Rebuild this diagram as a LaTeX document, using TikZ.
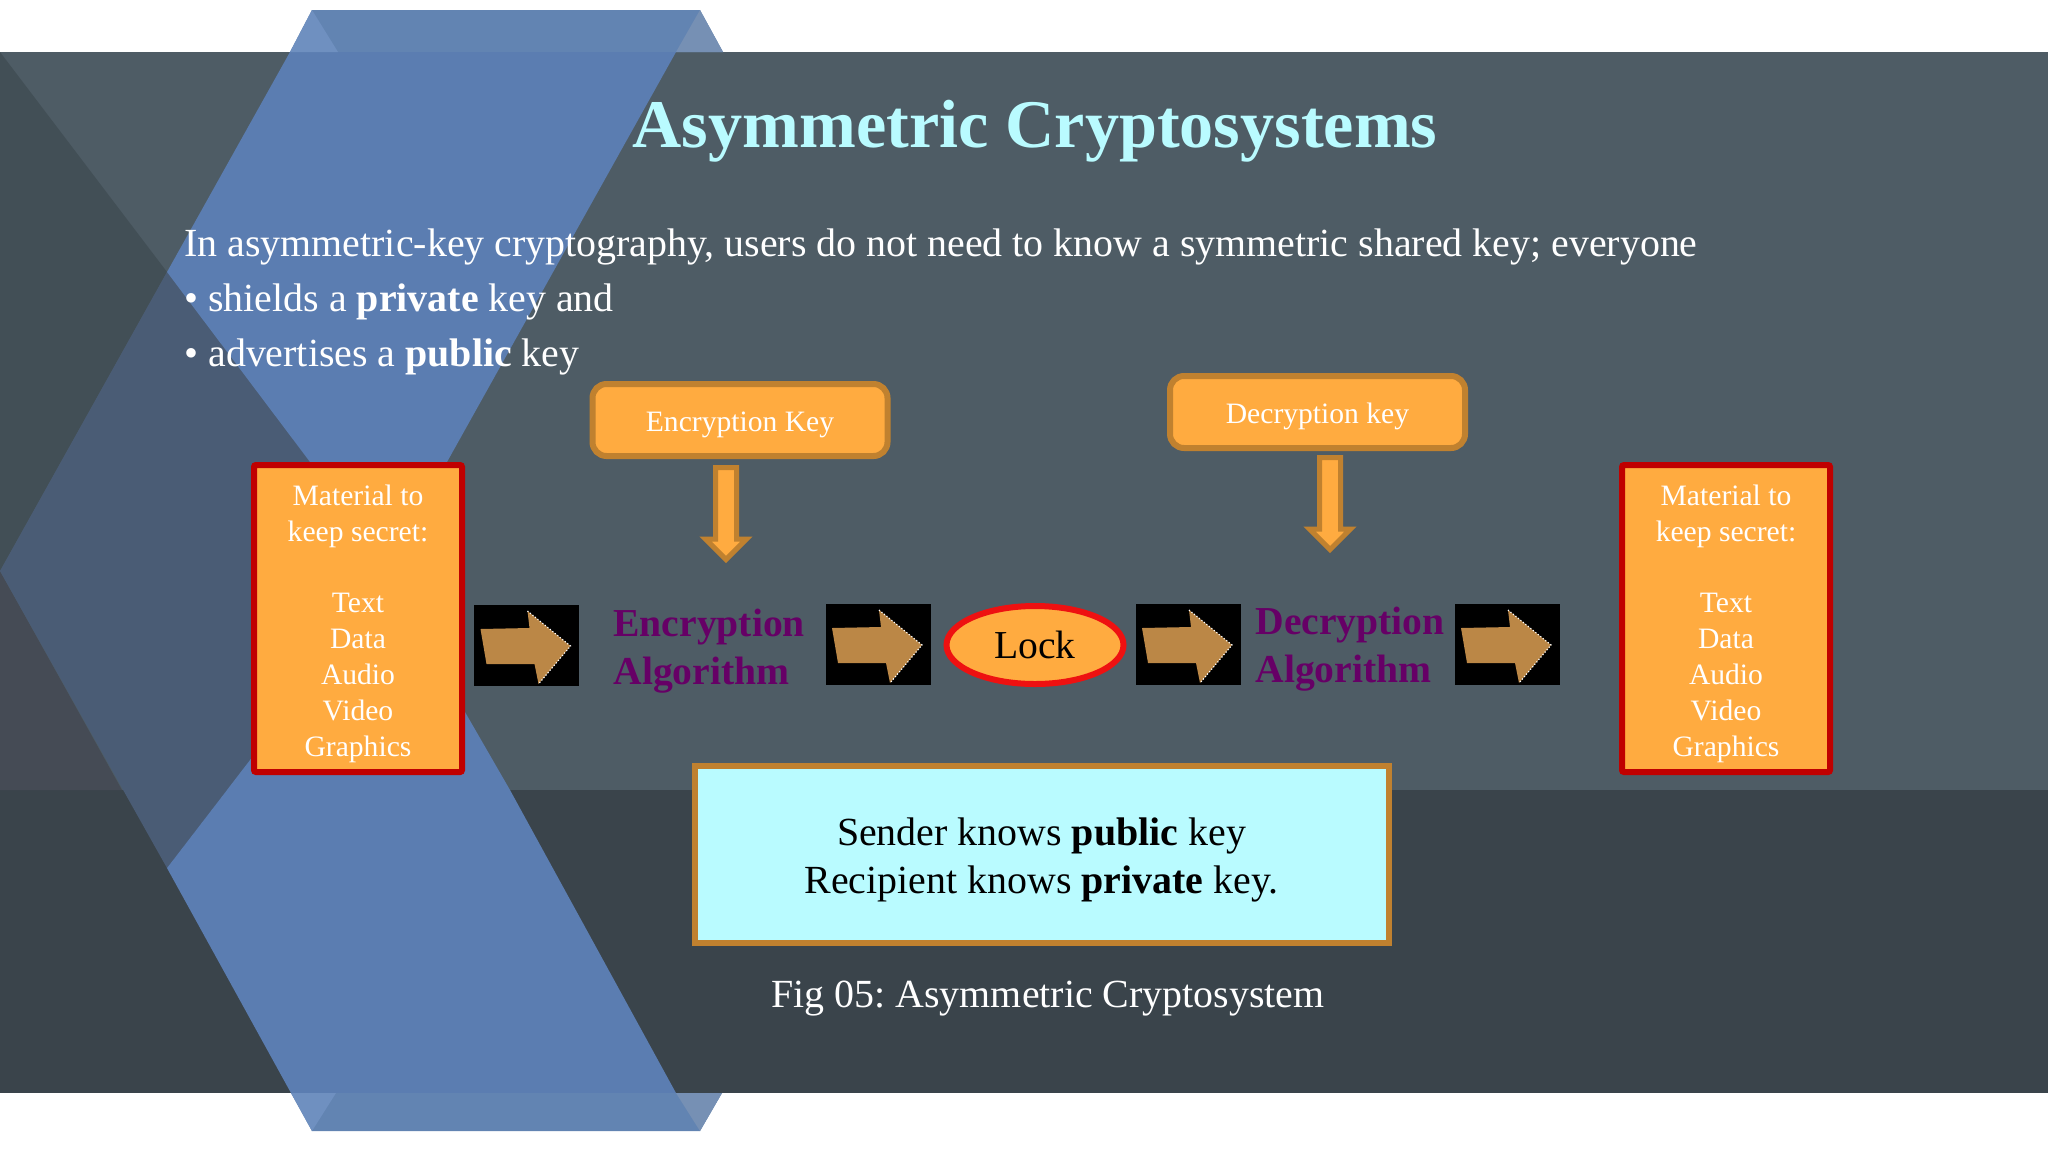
\documentclass[tikz,border=0pt]{standalone}
\usepackage{fontspec}
\setmainfont{Liberation Serif}
\usetikzlibrary{positioning,shapes.geometric,shapes.arrows}
\definecolor{slateband}{HTML}{4E5C65}
\definecolor{darkband}{HTML}{3A444B}
\definecolor{sidedark}{HTML}{424F56}
\definecolor{sidegrey}{HTML}{454B55}
\definecolor{dimblue}{HTML}{4A5C75}
\definecolor{fullblue}{HTML}{5B7DB1}
\definecolor{tabblue}{HTML}{6284B2}
\definecolor{tableft}{HTML}{6F90C0}
\definecolor{tabright}{HTML}{7690B4}
\definecolor{paleaqua}{HTML}{B9FBFF}
\definecolor{boxorange}{HTML}{FFAB40}
\definecolor{edgebrown}{HTML}{C0812F}
\definecolor{arrowbrown}{HTML}{BB8746}
\definecolor{secretred}{HTML}{C00000}
\definecolor{lockred}{HTML}{EE1111}
\definecolor{algpurple}{HTML}{660066}
\tikzset{
  secretbox/.style={rectangle, draw = secretred, fill = boxorange, line width = 3pt, rounded corners = 1pt, minimum width = 104pt, minimum height = 153.5pt, inner sep = 0pt},
  secrettext/.style={align = center, inner sep = 0pt, text = white, font = \fontsize{14.8}{17.9}\selectfont},
  keybox/.style={rectangle, rounded corners = 7pt, draw = edgebrown, fill = boxorange, line width = 3pt, minimum width = 147.5pt, minimum height = 36pt, inner sep = 0pt, text = white, text height = 11.7pt, text depth = 0pt, font = \fontsize{14.8}{17.9}\selectfont},
  keyarrow/.style={single arrow, rotate = -90, anchor = tail, draw = edgebrown, fill = boxorange, line width = 2.5pt, minimum height = 46pt, minimum width = 19pt, single arrow head extend = 5pt, inner xsep = 0pt, inner ysep = 4pt},
  algtext/.style={align = left, text = algpurple, inner sep = 0pt, anchor = west, font = \fontsize{19.8}{24}\selectfont\bfseries},
  imgarrow/.style={rectangle, fill = black, minimum width = 52.5pt, minimum height = 40.5pt, inner sep = 0pt, path picture = {
    \fill[arrowbrown, shift = {(path picture bounding box.center)}] (-46,-16)--(3,-17)--(1,-34)--(44,1)--(12,39)--(8,19)--(-40,19)--cycle;
    \draw[white, densely dotted, line width = .6pt, shift = {(path picture bounding box.center)}] (1,-34)--(44,1)--(12,39);
  }}
}
\begin{document}
\frenchspacing
\begin{tikzpicture}[x=.5pt, y=-.5pt]
\useasboundingbox (0,0) rectangle (2048,1152);
\fill[white] (0,0) rectangle (2048,1152);

% background bands
\fill[slateband] (0,52) rectangle (2048,790);
\fill[darkband] (0,790) rectangle (2048,1093);
\fill[sidedark] (0,52)--(167,272)--(0,571)--cycle;
\fill[sidegrey] (0,571)--(122,790)--(0,790)--cycle;

% blue chevrons
\fill[dimblue] (0,571)--(167,272)--(310,462)--(310,682)--(167,868)--cycle;
\fill[fullblue] (290,52)--(676,52)--(447,462)--(465,712)--(510,790)--(676,1093)--(291,1093)--(167,868)--(310,682)--(310,462)--(167,272)--cycle;
\fill[tabblue] (312,10)--(700,10)--(723,52)--(290,52)--cycle;
\fill[tableft] (312,10)--(338,52)--(290,52)--cycle;
\fill[tabright] (700,10)--(723,52)--(676,52)--cycle;
\fill[tabblue] (312,1131)--(700,1131)--(722,1093)--(291,1093)--cycle;
\fill[tableft] (312,1131)--(336,1093)--(291,1093)--cycle;
\fill[tabright] (700,1131)--(722,1093)--(676,1093)--cycle;

\node (title) [anchor = base, text = paleaqua, inner sep = 0pt, font = \fontsize{34.1}{40}\selectfont\bfseries] at (1035,147) {Asymmetric Cryptosystems};

\node (intro) [anchor = north west, align = left, text = white, inner sep = 0pt, font = \fontsize{19.95}{27.5}\selectfont] at (184,228) {In asymmetric-key cryptography, users do not need to know a symmetric shared key; everyone\\• shields a \textbf{private} key and\\• advertises a \textbf{public} key};

\node (secretleft) [secretbox] at (358,618.5) {};
\node (secretlefttext) [secrettext] at ([yshift=-2.6pt]secretleft.center) {Material to\\keep secret:\\[17.9pt]Text\\Data\\Audio\\Video\\Graphics};
\node (secretright) [secretbox] at (1726,618.5) {};
\node (secretrighttext) [secrettext] at ([yshift=-2.6pt]secretright.center) {Material to\\keep secret:\\[17.9pt]Text\\Data\\Audio\\Video\\Graphics};

\node (enckey) [keybox] at (740,420) {Encryption Key};
\node (deckey) [keybox] at (1317.5,412) {Decryption key};
\node (encarrow) [keyarrow] at (726,465) {};
\node (decarrow) [keyarrow] at (1330,455) {};

\node (arrowone) [imgarrow] at (526.5,645) {};
\node (encalg) [algtext] at (613,651) {Encryption\\Algorithm};
\node (arrowtwo) [imgarrow] at (878,644) {};
\node (lock) [ellipse, draw = lockred, fill = boxorange, line width = 3pt, minimum width = 88.5pt, minimum height = 39pt, inner sep = 0pt, font = \fontsize{19.8}{24}\selectfont] at (1035,645) {Lock};
\node (arrowthree) [imgarrow] at (1188,644) {};
\node (decalg) [algtext] at (1255,649) {Decryption\\Algorithm};
\node (arrowfour) [imgarrow] at (1507,644) {};

\node (notebox) [rectangle, draw = edgebrown, fill = paleaqua, line width = 3pt, minimum width = 347pt, minimum height = 88.5pt, inner sep = 0pt] at (1041.5,854.5) {};
\node (notetext) [align = center, inner sep = 0pt, font = \fontsize{19.95}{24}\selectfont] at ([yshift=-2.6pt]notebox.center) {Sender knows \textbf{public} key\\Recipient knows \textbf{private} key.};

\node (caption) [text = white, inner sep = 0pt, font = \fontsize{19.95}{24}\selectfont] at (1048,999) {Fig 05: Asymmetric Cryptosystem};
\end{tikzpicture}
\end{document}
